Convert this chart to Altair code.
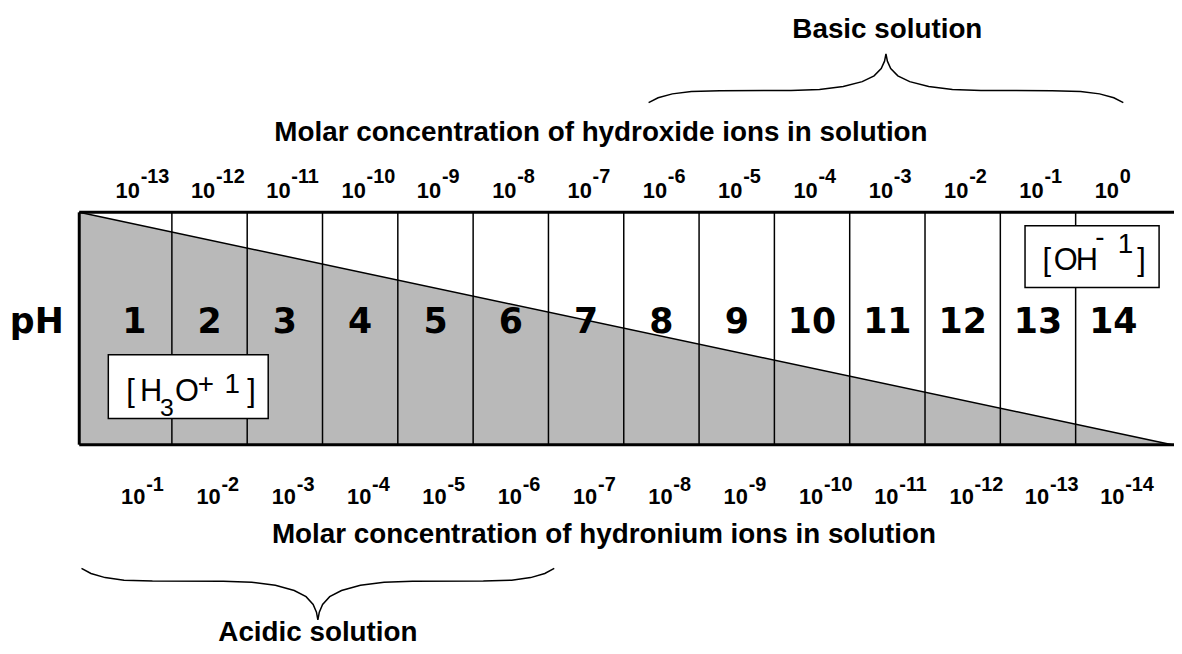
import altair as alt
import pandas as pd

# ---------------- data ----------------
ph_values = list(range(1, 15))
ph_labels = ["1", "2", "3", "4", "5", "6", "7", "8", "9", "10", "11", "12", "13", "14"]
oh_exponents = ["-13", "-12", "-11", "-10", "-9", "-8", "-7", "-6", "-5", "-4", "-3", "-2", "-1", "0"]
h3o_exponents = ["-1", "-2", "-3", "-4", "-5", "-6", "-7", "-8", "-9", "-10", "-11", "-12", "-13", "-14"]
cell_dividers = [k + 0.5 for k in ph_values[:-1]]

title_top = "Molar concentration of hydroxide ions in solution"
title_bottom = "Molar concentration of hydronium ions in solution"
label_basic = "Basic solution"
label_acidic = "Acidic solution"

# ---------------- layout (pH units on x, box units on y: box spans 0..1) ----------------
W, H = 1174, 638
X_DOM = [-0.676, 14.806]
Y_DOM = [-0.857, 1.870]
BOX_LEFT, BOX_RIGHT = 0.27, 14.78

xs = alt.Scale(domain=X_DOM, nice=False, zero=False)
ys = alt.Scale(domain=Y_DOM, nice=False, zero=False)


def ex(f):
    return alt.X(f, type="quantitative", scale=xs, axis=None)


def ey(f):
    return alt.Y(f, type="quantitative", scale=ys, axis=None)


def text_layer(df, size, weight="normal", font="Liberation Sans", align="center", dx=0, dy=0):
    return alt.Chart(df).mark_text(
        align=align, baseline="alphabetic", fontSize=size, fontWeight=weight,
        font=font, dx=dx, dy=dy, color="black"
    ).encode(x=ex("x"), y=ey("y"), text=alt.Text("t", type="nominal"))


layers = []

# shaded triangle ([H3O+] share)
tri = pd.DataFrame({"x": [BOX_LEFT, BOX_RIGHT], "y": [1.0, 0.0], "y0": [0.0, 0.0]})
layers.append(alt.Chart(tri).mark_area(color="#b9b9b9").encode(x=ex("x"), y=ey("y"), y2=alt.Y2("y0")))
layers.append(alt.Chart(tri).mark_line(color="black", strokeWidth=1.5).encode(x=ex("x"), y=ey("y")))

# cell dividers
div = pd.DataFrame({"x": cell_dividers, "y0": 0.0, "y1": 1.0})
layers.append(alt.Chart(div).mark_rule(color="black", strokeWidth=1.5).encode(
    x=ex("x"), y=ey("y0"), y2=alt.Y2("y1")))

# box borders
hb = pd.DataFrame({"x0": [BOX_LEFT, BOX_LEFT], "x1": [X_DOM[1], X_DOM[1]], "y": [0.0, 1.0]})
layers.append(alt.Chart(hb).mark_rule(color="black", strokeWidth=3).encode(
    x=ex("x0"), x2=alt.X2("x1"), y=ey("y")))
lb = pd.DataFrame({"x": [BOX_LEFT], "y0": [0.0], "y1": [1.0]})
layers.append(alt.Chart(lb).mark_rule(color="black", strokeWidth=3).encode(
    x=ex("x"), y=ey("y0"), y2=alt.Y2("y1")))

# ion label boxes
boxes = pd.DataFrame({"x0": [0.656, 12.828], "x1": [2.779, 14.608],
                      "y0": [0.113, 0.677], "y1": [0.387, 0.942]})
layers.append(alt.Chart(boxes).mark_rect(fill="white", stroke="black", strokeWidth=1.5).encode(
    x=ex("x0"), x2=alt.X2("x1"), y=ey("y0"), y2=alt.Y2("y1")))

# [H3O+1]
h3o_main = pd.DataFrame({"x": [0.893, 1.078, 1.540, 2.502], "y": [0.186] * 4, "t": ["[", "H", "O", "]"]})
h3o_sub = pd.DataFrame({"x": [1.342], "y": [0.122], "t": ["3"]})
h3o_sup = pd.DataFrame({"x": [1.843, 2.199], "y": [0.224, 0.224], "t": ["+", "1"]})
layers.append(text_layer(h3o_main, 31, align="left"))
layers.append(text_layer(h3o_sub, 25, align="left"))
layers.append(text_layer(h3o_sup, 28, align="left"))

# [OH-1]
oh_main = pd.DataFrame({"x": [13.06, 13.21, 13.5, 14.318], "y": [0.75] * 4, "t": ["[", "O", "H", "]"]})
oh_sup = pd.DataFrame({"x": [13.76, 14.06], "y": [0.857, 0.823], "t": ["-", "1"]})
layers.append(text_layer(oh_main, 31, align="left"))
layers.append(text_layer(oh_sup, 28, align="left"))

# pH numbers and label
nums = pd.DataFrame({"x": ph_values, "y": 0.481, "t": ph_labels})
layers.append(text_layer(nums, 35, weight="bold", font="DejaVu Sans"))
phl = pd.DataFrame({"x": [-0.293], "y": [0.481], "t": ["pH"]})
layers.append(text_layer(phl, 35, weight="bold", font="DejaVu Sans"))

# hydroxide concentration labels (top)
top10 = pd.DataFrame({"x": ph_values, "y": 1.062, "t": ["10"] * 14})
topsup = pd.DataFrame({"x": ph_values, "y": 1.128, "t": oh_exponents})
layers.append(text_layer(top10, 22, weight="bold", dx=-6.5))
layers.append(text_layer(topsup, 20, weight="bold", align="left", dx=6.5))

# hydronium concentration labels (bottom)
bot10 = pd.DataFrame({"x": ph_values, "y": -0.254, "t": ["10"] * 14})
botsup = pd.DataFrame({"x": ph_values, "y": -0.199, "t": h3o_exponents})
layers.append(text_layer(bot10, 22, weight="bold", dx=-1))
layers.append(text_layer(botsup, 20, weight="bold", align="left", dx=12))

# titles
titles = pd.DataFrame({"x": [7.197, 7.237, 11.0, 3.439],
                       "y": [1.306, -0.425, 1.75, -0.844],
                       "t": [title_top, title_bottom, label_basic, label_acidic]})
layers.append(text_layer(titles, 28, weight="bold"))

# braces
half = [(0.0, 0.0), (0.02, 0.10), (0.05, 0.18), (0.09, 0.23), (0.15, 0.245), (0.30, 0.25),
        (0.36, 0.27), (0.41, 0.33), (0.45, 0.43), (0.475, 0.55), (0.49, 0.70), (0.497, 0.85), (0.5, 1.0)]
shape = half + [(1 - t, h) for t, h in reversed(half[:-1])]
braces = [("basic", 7.83, 14.133, 1.472, 1.682), ("acidic", 0.300, 6.577, -0.532, -0.754)]
rows = []
for name, x0, x1, ye, yt in braces:
    for i, (t, h) in enumerate(shape):
        rows.append({"b": name, "i": i, "x": x0 + t * (x1 - x0), "y": ye + h * (yt - ye)})
bdf = pd.DataFrame(rows)
layers.append(alt.Chart(bdf).mark_line(color="black", strokeWidth=1.5).encode(
    x=ex("x"), y=ey("y"), detail="b:N", order="i:Q"))

chart = alt.layer(*layers).properties(
    width=W, height=H, autosize=alt.AutoSizeParams(type="none"), padding=0, background="white"
).configure_view(stroke=None)

chart.save("out.html", embed_options={"renderer": "svg", "actions": False})
